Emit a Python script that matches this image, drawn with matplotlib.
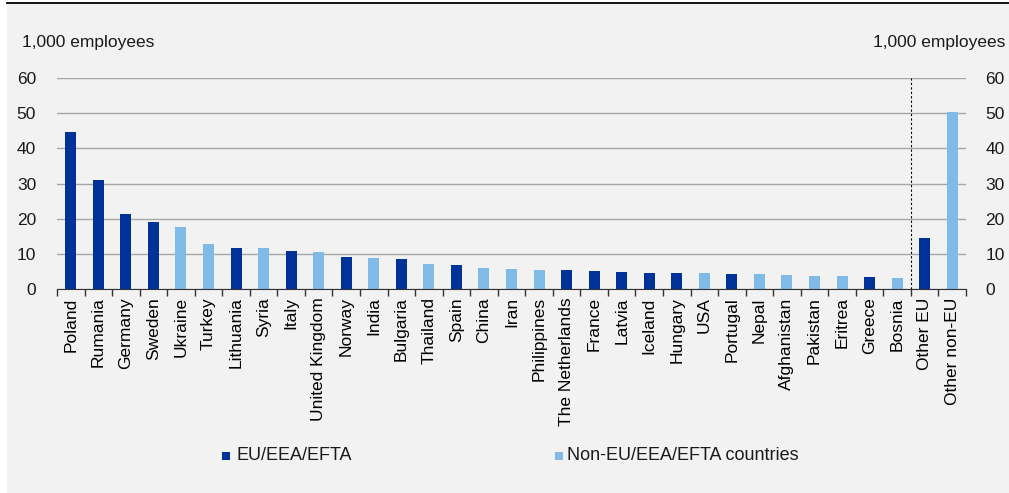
import numpy as np
import matplotlib.pyplot as plt
from matplotlib.patches import Rectangle
from matplotlib.lines import Line2D

plt.rcParams['font.family'] = ['Liberation Sans', 'DejaVu Sans']

# Data (1,000 employees)
countries = ['Poland', 'Rumania', 'Germany', 'Sweden', 'Ukraine', 'Turkey',
             'Lithuania', 'Syria', 'Italy', 'United Kingdom', 'Norway', 'India',
             'Bulgaria', 'Thailand', 'Spain', 'China', 'Iran', 'Philippines',
             'The Netherlands', 'France', 'Latvia', 'Iceland', 'Hungary', 'USA',
             'Portugal', 'Nepal', 'Afghanistan', 'Pakistan', 'Eritrea', 'Greece',
             'Bosnia', 'Other EU', 'Other non-EU']
values = [44.6, 30.9, 21.2, 19.0, 17.7, 12.9, 11.8, 11.8, 10.7, 10.4, 9.0, 8.9,
          8.5, 7.1, 6.8, 6.0, 5.8, 5.5, 5.5, 5.0, 4.7, 4.6, 4.45, 4.45, 4.4, 4.2,
          4.1, 3.8, 3.6, 3.3, 3.1, 14.4, 50.3]
is_eu = [1, 1, 1, 1, 0, 0, 1, 0, 1, 0, 1, 0, 1, 0, 1, 0, 0, 0, 1, 1, 1, 1, 1, 0,
         1, 0, 0, 0, 0, 1, 0, 1, 0]

dark = '#003399'
light = '#80bae6'
bg = '#f2f2f2'

fig = plt.figure(figsize=(10.09, 4.93), dpi=100)
fig.patch.set_facecolor('white')

# grey panel and top rule
fig.patches.append(Rectangle((7 / 1009, 0), 1 - 7 / 1009, 1 - 3 / 493,
                             transform=fig.transFigure, facecolor=bg,
                             edgecolor='none', zorder=-10))
fig.lines.append(Line2D([7 / 1009, 1], [1 - 3 / 493, 1 - 3 / 493],
                        transform=fig.transFigure, color='black', lw=1.3))

ax = fig.add_axes([57 / 1009, 1 - 289 / 493, 909 / 1009, 211 / 493])
ax.set_facecolor('none')

x = np.arange(len(countries))
colors = [dark if e else light for e in is_eu]
ax.bar(x, values, width=0.4, color=colors, zorder=3)

ax.set_xlim(-0.5, len(countries) - 0.5)
ax.set_ylim(0, 60)
ax.set_yticks(range(0, 61, 10))
ax.grid(axis='y', color='#a6a6a6', lw=1, zorder=1)
ax.set_xticks(np.arange(len(countries) + 1) - 0.5, minor=False)
ax.set_xticklabels([])
ax.set_xticks(x, minor=True)
ax.set_xticklabels(countries, minor=True, rotation=90, fontsize=12.5)
ax.tick_params(axis='x', which='major', length=5, width=1, color='#333333')
ax.tick_params(axis='x', which='minor', length=0, pad=6)
ax.tick_params(axis='y', length=0, pad=15, labelsize=12.5, colors='#1a1a1a')
for s in ['top', 'left', 'right']:
    ax.spines[s].set_visible(False)
ax.spines['bottom'].set_color('#333333')
ax.spines['bottom'].set_zorder(4)

ax2 = ax.twinx()
ax2.set_ylim(0, 60)
ax2.set_yticks(range(0, 61, 10))
ax2.tick_params(axis='y', length=0, pad=14, labelsize=12.5, colors='#1a1a1a')
for s in ax2.spines.values():
    s.set_visible(False)

# separator before "Other" bars
ax.axvline(30.5, color='black', lw=0.8, ls=(0, (2, 2)), zorder=2)

fig.text(22 / 1009, 1 - 42 / 493, '1,000 employees', fontsize=12.5,
         va='center', ha='left', color='#1a1a1a')
fig.text(1005 / 1009, 1 - 42 / 493, '1,000 employees', fontsize=12.5,
         va='center', ha='right', color='#1a1a1a')

# legend
leg_y = 1 - 456 / 493
fig.patches.append(Rectangle((222 / 1009, leg_y - 4 / 493), 8 / 1009, 8 / 493,
                             transform=fig.transFigure, facecolor=dark,
                             edgecolor='none'))
fig.text(236 / 1009, leg_y, 'EU/EEA/EFTA', fontsize=13, va='center',
         ha='left', color='#1a1a1a')
fig.patches.append(Rectangle((555 / 1009, leg_y - 4 / 493), 8 / 1009, 8 / 493,
                             transform=fig.transFigure, facecolor=light,
                             edgecolor='none'))
fig.text(567 / 1009, leg_y, 'Non-EU/EEA/EFTA countries', fontsize=13,
         va='center', ha='left', color='#1a1a1a')

fig.savefig('out.png', dpi=100)
